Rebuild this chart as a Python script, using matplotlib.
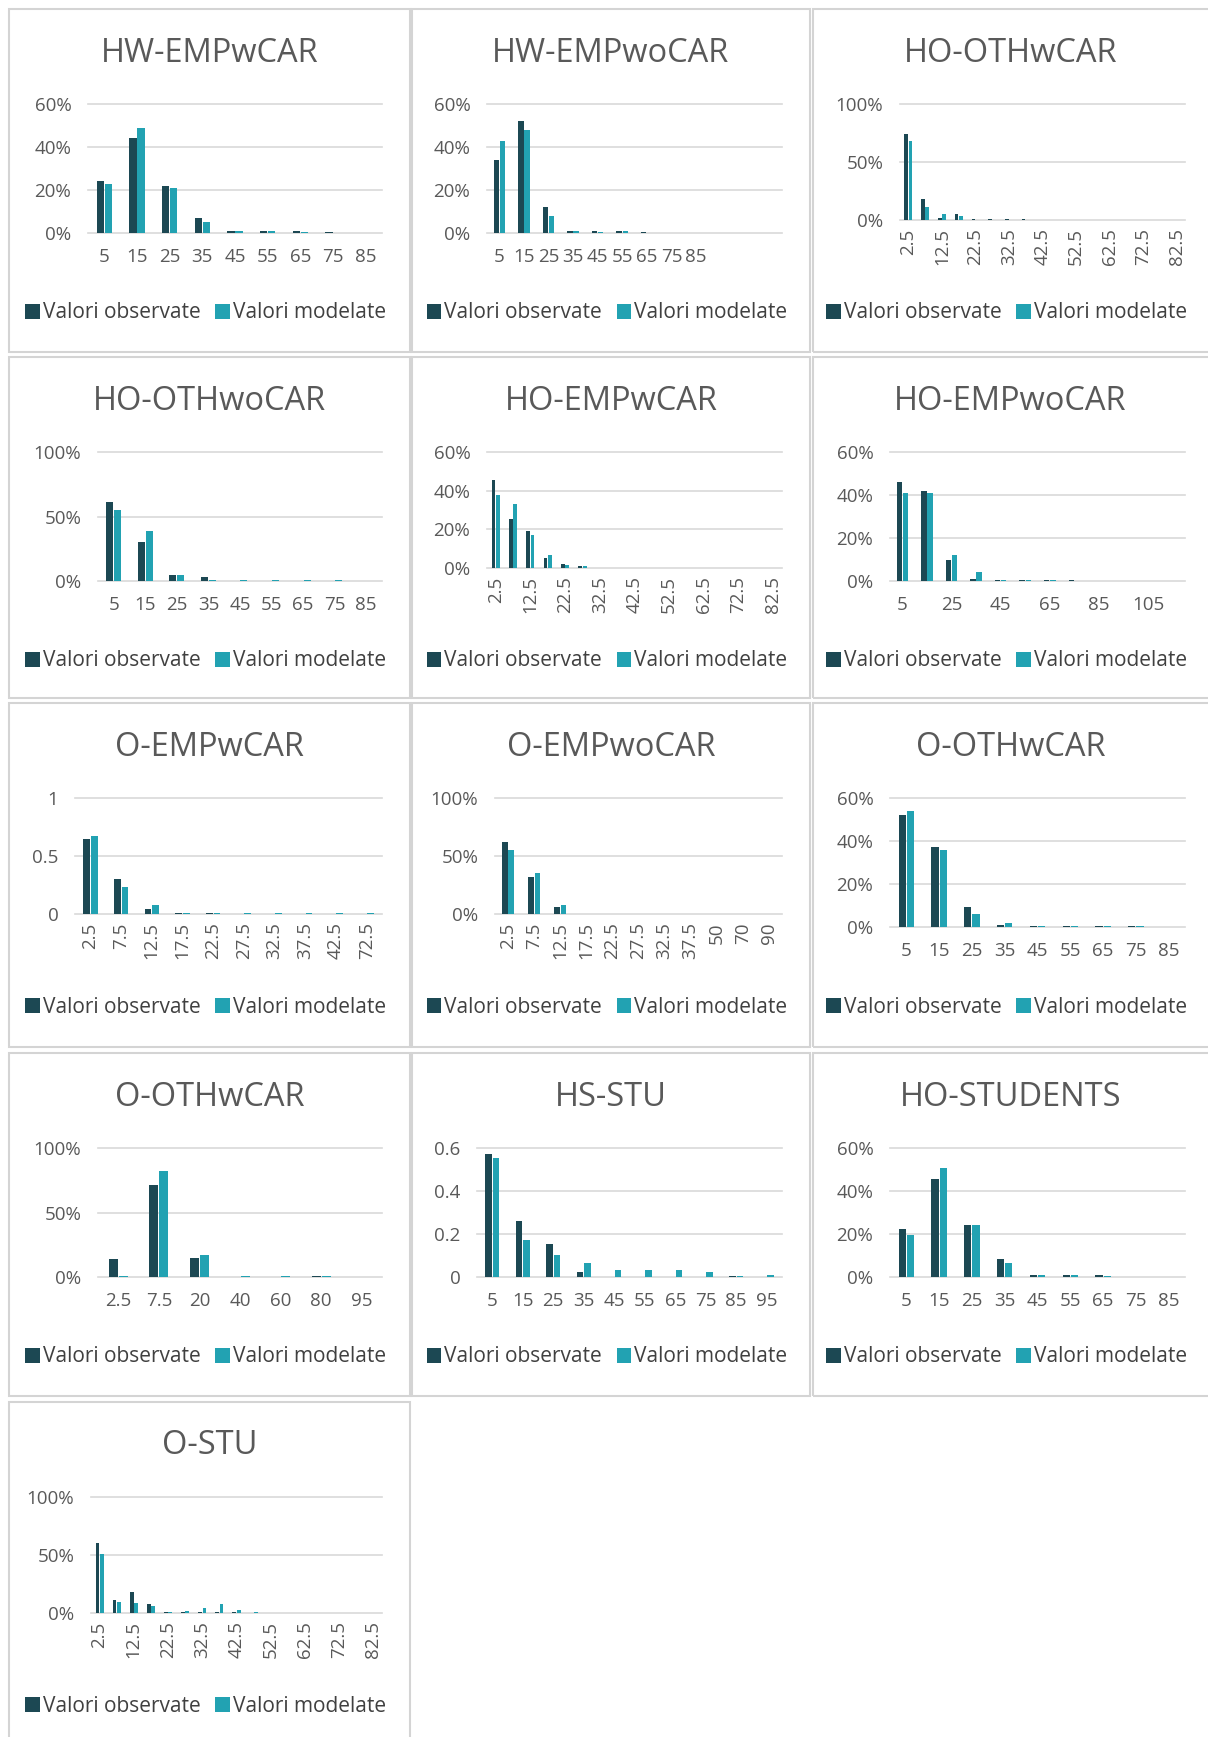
import matplotlib
matplotlib.use("Agg")
import matplotlib.pyplot as plt
import numpy as np
from matplotlib.patches import Patch, Rectangle
from matplotlib.ticker import FuncFormatter

plt.rcParams["font.family"] = ["Open Sans", "DejaVu Sans"]

OBS_COLOR = "#1c4853"
MOD_COLOR = "#22a2b2"
TEXT = "#595959"
GRID = "#d9d9d9"
W, H = 1208, 1737

# ---- data (shares of trips per distance class) ----
cats_5_85 = ["5", "15", "25", "35", "45", "55", "65", "75", "85"]
cats_25_825 = ["2.5", "7.5", "12.5", "17.5", "22.5", "27.5", "32.5", "37.5", "42.5",
               "47.5", "52.5", "57.5", "62.5", "67.5", "72.5", "77.5", "82.5"]

hw_empwcar_obs = [0.24, 0.44, 0.22, 0.07, 0.01, 0.01, 0.01, 0.005, 0.0]
hw_empwcar_mod = [0.23, 0.49, 0.21, 0.05, 0.01, 0.01, 0.005, 0.0, 0.0]

hw_empwocar_cats = cats_5_85 + ["", "", ""]
hw_empwocar_obs = [0.34, 0.52, 0.12, 0.01, 0.01, 0.01, 0.005, 0.0, 0.0, 0.0, 0.0, 0.0]
hw_empwocar_mod = [0.43, 0.48, 0.08, 0.01, 0.005, 0.01, 0.0, 0.0, 0.0, 0.0, 0.0, 0.0]

ho_othwcar_obs = [0.74, 0.18, 0.015, 0.05, 0.005, 0.005, 0.005, 0.005, 0.0,
                  0.0, 0.0, 0.0, 0.0, 0.0, 0.0, 0.0, 0.0]
ho_othwcar_mod = [0.68, 0.11, 0.05, 0.035, 0.003, 0.003, 0.003, 0.003, 0.0,
                  0.0, 0.0, 0.0, 0.0, 0.0, 0.0, 0.0, 0.0]

ho_othwocar_obs = [0.615, 0.30, 0.05, 0.03, 0.003, 0.0, 0.0, 0.0, 0.0]
ho_othwocar_mod = [0.55, 0.385, 0.05, 0.01, 0.005, 0.005, 0.005, 0.005, 0.0]

ho_empwcar_obs = [0.455, 0.254, 0.19, 0.054, 0.02, 0.008, 0.0, 0.0, 0.0,
                  0.0, 0.0, 0.0, 0.0, 0.0, 0.0, 0.0, 0.0]
ho_empwcar_mod = [0.38, 0.33, 0.17, 0.066, 0.017, 0.008, 0.0, 0.0, 0.0,
                  0.0, 0.0, 0.0, 0.0, 0.0, 0.0, 0.0, 0.0]

ho_empwocar_cats = ["5", "15", "25", "35", "45", "55", "65", "75", "85", "95", "105", "115"]
ho_empwocar_obs = [0.46, 0.42, 0.10, 0.01, 0.005, 0.005, 0.003, 0.003, 0.0, 0.0, 0.0, 0.0]
ho_empwocar_mod = [0.41, 0.41, 0.12, 0.04, 0.003, 0.003, 0.005, 0.0, 0.0, 0.0, 0.0, 0.0]

o_empwcar_cats = ["2.5", "7.5", "12.5", "17.5", "22.5", "27.5", "32.5", "37.5", "42.5", "72.5"]
o_empwcar_obs = [0.65, 0.30, 0.04, 0.01, 0.01, 0.0, 0.0, 0.0, 0.0, 0.0]
o_empwcar_mod = [0.67, 0.23, 0.076, 0.01, 0.005, 0.005, 0.005, 0.005, 0.005, 0.005]

o_empwocar_cats = ["2.5", "7.5", "12.5", "17.5", "22.5", "27.5", "32.5", "37.5", "50", "70", "90"]
o_empwocar_obs = [0.62, 0.32, 0.057, 0.0, 0.0, 0.0, 0.0, 0.0, 0.0, 0.0, 0.0]
o_empwocar_mod = [0.55, 0.356, 0.076, 0.003, 0.003, 0.003, 0.003, 0.003, 0.003, 0.0, 0.0]

o_othwcar_obs = [0.52, 0.37, 0.093, 0.01, 0.004, 0.004, 0.004, 0.004, 0.0]
o_othwcar_mod = [0.54, 0.36, 0.062, 0.02, 0.004, 0.004, 0.004, 0.004, 0.0]

o_othwcar2_cats = ["2.5", "7.5", "20", "40", "60", "80", "95"]
o_othwcar2_obs = [0.14, 0.71, 0.15, 0.0, 0.0, 0.005, 0.0]
o_othwcar2_mod = [0.01, 0.82, 0.17, 0.005, 0.005, 0.005, 0.0]

hs_stu_cats = ["5", "15", "25", "35", "45", "55", "65", "75", "85", "95"]
hs_stu_obs = [0.572, 0.262, 0.152, 0.022, 0.0, 0.0, 0.0, 0.0, 0.004, 0.0]
hs_stu_mod = [0.553, 0.172, 0.102, 0.064, 0.033, 0.033, 0.033, 0.022, 0.003, 0.008]

ho_students_obs = [0.223, 0.456, 0.243, 0.082, 0.008, 0.007, 0.008, 0.0, 0.0]
ho_students_mod = [0.195, 0.505, 0.243, 0.064, 0.007, 0.007, 0.005, 0.0, 0.0]

o_stu_obs = [0.60, 0.11, 0.18, 0.076, 0.01, 0.005, 0.01, 0.01, 0.01,
             0.0, 0.0, 0.0, 0.0, 0.0, 0.0, 0.0, 0.0]
o_stu_mod = [0.505, 0.095, 0.086, 0.057, 0.01, 0.02, 0.04, 0.08, 0.03,
             0.01, 0.0, 0.0, 0.0, 0.0, 0.0, 0.0, 0.0]

titles = ["HW-EMPwCAR", "HW-EMPwoCAR", "HO-OTHwCAR",
          "HO-OTHwoCAR", "HO-EMPwCAR", "HO-EMPwoCAR",
          "O-EMPwCAR", "O-EMPwoCAR", "O-OTHwCAR",
          "O-OTHwCAR", "HS-STU", "HO-STUDENTS",
          "O-STU"]
legend_labels = ["Valori observate", "Valori modelate"]

# (categories, observed, modelled, y max, y step, percent?, label step, rotated?, left offset)
panels = [
    (cats_5_85, hw_empwcar_obs, hw_empwcar_mod, 0.6, 0.2, True, 1, False, 79),
    (hw_empwocar_cats, hw_empwocar_obs, hw_empwocar_mod, 0.6, 0.2, True, 1, False, 75),
    (cats_25_825, ho_othwcar_obs, ho_othwcar_mod, 1.0, 0.5, True, 2, True, 87),
    (cats_5_85, ho_othwocar_obs, ho_othwocar_mod, 1.0, 0.5, True, 1, False, 89),
    (cats_25_825, ho_empwcar_obs, ho_empwcar_mod, 0.6, 0.2, True, 2, True, 75),
    (ho_empwocar_cats, ho_empwocar_obs, ho_empwocar_mod, 0.6, 0.2, True, 2, False, 77),
    (o_empwcar_cats, o_empwcar_obs, o_empwcar_mod, 1.0, 0.5, False, 1, True, 66),
    (o_empwocar_cats, o_empwocar_obs, o_empwocar_mod, 1.0, 0.5, True, 1, True, 83),
    (cats_5_85, o_othwcar_obs, o_othwcar_mod, 0.6, 0.2, True, 1, False, 77),
    (o_othwcar2_cats, o_othwcar2_obs, o_othwcar2_mod, 1.0, 0.5, True, 1, False, 89),
    (hs_stu_cats, hs_stu_obs, hs_stu_mod, 0.6, 0.2, False, 1, False, 65),
    (cats_5_85, ho_students_obs, ho_students_mod, 0.6, 0.2, True, 1, False, 77),
    (cats_25_825, o_stu_obs, o_stu_mod, 1.0, 0.5, True, 2, True, 82),
]

col_x = [(9, 410), (412, 810), (813, 1213)]
row_y = [(9, 352), (357, 698), (703, 1047), (1053, 1396), (1402, 1745)]


def px_box(x0, y0, x1, y1):
    return [x0 / W, 1 - y1 / H, (x1 - x0) / W, (y1 - y0) / H]


pct_fmt = FuncFormatter(lambda v, p: f"{v * 100:.0f}%")
dec_fmt = FuncFormatter(lambda v, p: f"{v:g}")

fig = plt.figure(figsize=(W / 100, H / 100), dpi=100)
fig.patch.set_facecolor("white")

handles = [Patch(facecolor=OBS_COLOR), Patch(facecolor=MOD_COLOR)]
bw, off = 0.22, 0.125

for i, (cats, obs, mod, ymax, ystep, is_pct, step, rot, left) in enumerate(panels):
    x0, x1 = col_x[i % 3]
    y0, y1 = row_y[i // 3]

    # panel frame
    fig.add_artist(Rectangle((x0 / W, 1 - y1 / H), (x1 - x0) / W, (y1 - y0) / H,
                             transform=fig.transFigure, fill=False,
                             edgecolor="#d4d4d4", linewidth=1.5))

    bottom = y0 + (211 if rot else 224)
    ax = fig.add_axes(px_box(x0 + left, y0 + 95, x1 - 28, bottom))
    x = np.arange(len(cats))
    ax.bar(x - off, obs, bw, color=OBS_COLOR, zorder=3)
    ax.bar(x + off, mod, bw, color=MOD_COLOR, zorder=3)

    ax.set_xlim(-0.5, len(cats) - 0.5)
    ax.set_ylim(0, ymax)
    ax.set_yticks(np.arange(0, ymax + 1e-9, ystep))
    ax.yaxis.set_major_formatter(pct_fmt if is_pct else dec_fmt)
    ax.set_xticks(x[::step])
    ax.set_xticklabels(cats[::step], rotation=90 if rot else 0)
    ax.tick_params(axis="both", length=0, colors=TEXT, labelsize=13.5)
    ax.tick_params(axis="y", pad=12)
    ax.tick_params(axis="x", pad=6 if rot else 11)
    ax.grid(axis="y", color=GRID, linewidth=1.2, clip_on=False)
    ax.set_axisbelow(True)
    for s in ax.spines.values():
        s.set_visible(False)

    cx = (x0 + min(x1, 1208)) / 2 if i % 3 == 2 else (x0 + x1) / 2
    fig.text(cx / W, 1 - (y0 + 44) / H, titles[i], ha="center", va="center",
             fontsize=23.5, color=TEXT)
    fig.legend(handles, legend_labels, loc="center", ncol=2, frameon=False,
               bbox_to_anchor=((cx - 4) / W, 1 - (y0 + 304) / H),
               fontsize=15, labelcolor="#404040", handlelength=0.7,
               handleheight=0.7, handletextpad=0.15, columnspacing=0.7,
               borderpad=0, borderaxespad=0)

fig.savefig("out.png", dpi=100, facecolor="white")
